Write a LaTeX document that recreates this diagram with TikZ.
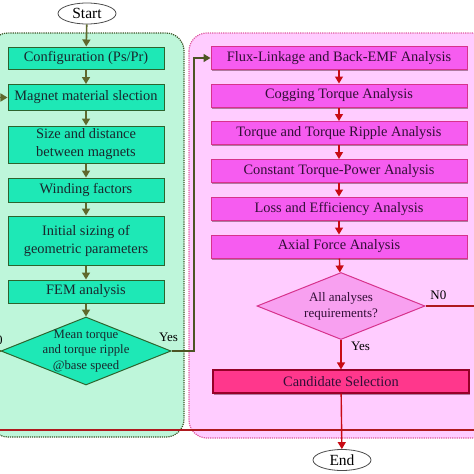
\documentclass[tikz,border=0pt]{standalone}
\usepackage{fontspec}
\setmainfont{Liberation Serif}
\usetikzlibrary{shapes}
\usetikzlibrary{arrows.meta}
\usetikzlibrary{shadows}
\definecolor{gpanel}{RGB}{190,246,218}
\definecolor{gpanelline}{RGB}{60,85,40}
\definecolor{gfill}{RGB}{30,232,182}
\definecolor{gline}{RGB}{45,100,45}
\definecolor{garr}{RGB}{95,105,45}
\definecolor{ppanel}{RGB}{255,204,255}
\definecolor{ppanelline}{RGB}{222,90,160}
\definecolor{pfill}{RGB}{246,92,240}
\definecolor{pline}{RGB}{215,50,140}
\definecolor{pdia}{RGB}{248,160,240}
\definecolor{parr}{RGB}{200,10,20}
\definecolor{cfill}{RGB}{255,55,140}
\definecolor{cline}{RGB}{150,0,40}
\definecolor{loopred}{RGB}{175,25,30}
\definecolor{gtext}{RGB}{25,40,45}
\definecolor{ptext}{RGB}{50,15,55}
\begin{document}
\begin{tikzpicture}[x=1pt,y=-1pt,font=\fontsize{14.4}{18}\selectfont,
    term/.style={ellipse,draw=black!70,fill=white,line width=0.8pt,inner sep=0pt,
      minimum width=58pt,minimum height=21pt,font=\fontsize{15.5}{17}\selectfont},
    gbox/.style={draw=gline,fill=gfill,line width=1pt,minimum width=156pt,
      inner sep=0pt,align=center,text=gtext},
    pbox/.style={draw=pline,fill=pfill,line width=1pt,minimum width=256pt,
      minimum height=23pt,inner sep=0pt,text=ptext,
      drop shadow={shadow xshift=1pt,shadow yshift=-1.5pt,opacity=0.4,fill=black!70!purple}},
    gdia/.style={diamond,draw=gline,fill=gfill,line width=1pt,inner sep=0pt,
      minimum width=170pt,minimum height=68pt},
    pdia/.style={diamond,draw=pline,fill=pdia,line width=1pt,inner sep=0pt,
      minimum width=168pt,minimum height=67pt},
    garrow/.style={draw=garr,line width=1.6pt,-{Triangle[length=7pt,width=8pt]}},
    parrow/.style={draw=parr,line width=1.4pt,-{Triangle[length=7pt,width=8pt]}}]
  \useasboundingbox (0,0) rectangle (474,474);
  % panels
  \draw[fill=gpanel,draw=gpanelline,densely dotted,line width=1.2pt,rounded corners=18pt]
    (-10,33) rectangle (184,437);
  \draw[fill=ppanel,draw=ppanelline,densely dotted,line width=1.2pt,rounded corners=18pt]
    (189,33) rectangle (490,438);
  % design steps
  \node[term] (S) at (87,13.5) {Start};
  \node[gbox,minimum height=22pt] (L1) at (86,58) {Configuration (Ps/Pr)};
  \node[gbox,minimum height=26pt] (L2) at (86,97.5) {Magnet material slection};
  \node[gbox,minimum height=37pt] (L3) at (86,144.5) {Size and distance\\between magnets};
  \node[gbox,minimum height=24pt] (L4) at (86,190) {Winding factors};
  \node[gbox,minimum height=49pt] (L5) at (86,240.5) {Initial sizing of\\geometric parameters};
  \node[gbox,minimum height=23pt] (L6) at (86,291.5) {FEM analysis};
  \node[gdia,label={[align=center,text=gtext,font=\fontsize{12.7}{15.5}\selectfont]center:Mean torque\\and torque ripple\\@base speed}] (L7) at (86,351) {};
  % analyses
  \node[pbox] (R1) at (339,58) {Flux-Linkage and Back-EMF Analysis};
  \node[pbox] (R2) at (339,95.5) {Cogging Torque Analysis};
  \node[pbox] (R3) at (339,133) {Torque and Torque Ripple Analysis};
  \node[pbox] (R4) at (339,171) {Constant Torque-Power Analysis};
  \node[pbox] (R5) at (339,208.5) {Loss and Efficiency Analysis};
  \node[pbox] (R6) at (339,246.5) {Axial Force Analysis};
  \node[pdia,label={[align=center,text=ptext,font=\fontsize{13}{16}\selectfont]center:All analyses\\requirements?}] (R7) at (341,306) {};
  \node[pbox,draw=cline,fill=cfill,line width=1.2pt] (R8) at (341,381.5) {Candidate Selection};
  \node[term] (E) at (342,460) {End};
  \coordinate (yesup) at (194,351);
  \coordinate (noL) at (-14,351);
  \coordinate (noR) at (490,306);
  \coordinate (loopR) at (490,430);
  \coordinate (loopL) at (-20,430);
  % links
  \draw[garrow] (S) -- (L1);
  \foreach \a/\b in {L1/L2,L2/L3,L3/L4,L4/L5,L5/L6,L6/L7}
    \draw[garrow] (\a) -- (\b);
  \foreach \a/\b in {R1/R2,R2/R3,R3/R4,R4/R5,R5/R6,R6/R7}
    \draw[parrow] (\a) -- (\b);
  \draw[parrow] (R7) -- node[pos=0.22,right=6pt,text=black,font=\fontsize{13}{16}\selectfont] {Yes} (R8);
  \draw[draw=gpanelline,line width=1.6pt,-{Triangle[length=7pt,width=8pt]},draw=garr!80!black]
    (L7.east) -- node[pos=0,above=5pt,xshift=-3pt,text=black,font=\fontsize{13}{16}\selectfont] {Yes} (yesup) |- (R1.west);
  \draw[garrow] (L7.west) -- node[pos=0.4,above=2pt,text=black,font=\fontsize{13}{16}\selectfont] {N0} (noL) |- (L2.west);
  \draw[draw=loopred,line width=1.4pt] (R7.east) -- node[pos=0.2,above=2pt,text=black,font=\fontsize{13}{16}\selectfont] {N0} (noR)
    -- (loopR) -- (loopL);
  \draw[parrow] (R8) -- (E);
\end{tikzpicture}
\end{document}
